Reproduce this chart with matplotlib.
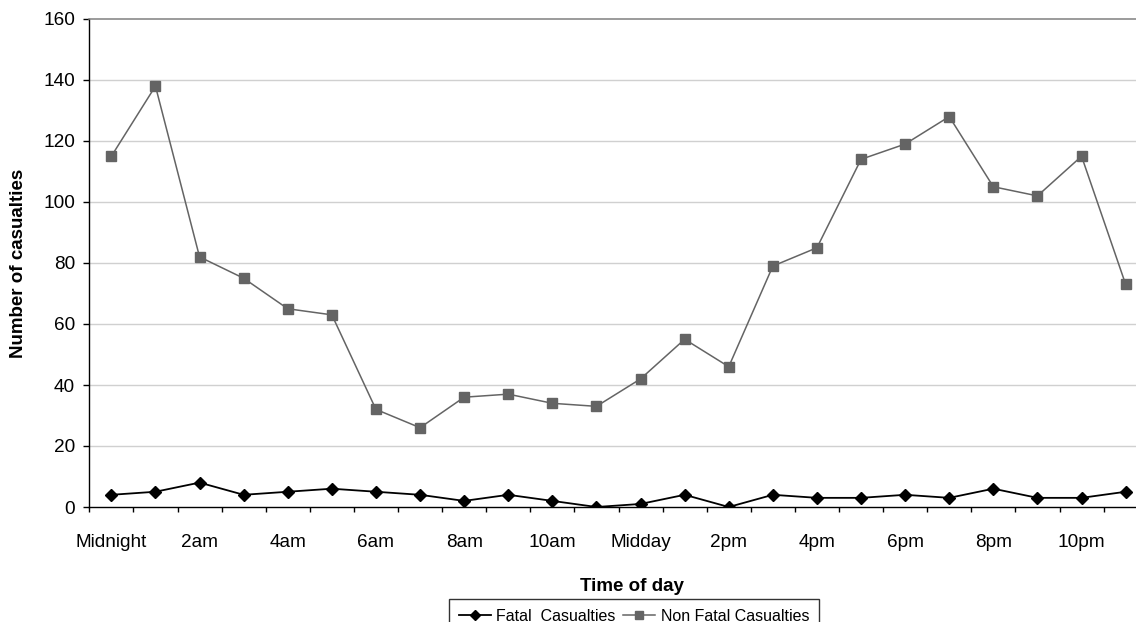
import matplotlib
matplotlib.use("Agg")
import matplotlib.pyplot as plt
import numpy as np

plt.rcParams['font.family'] = ['Liberation Sans', 'DejaVu Sans']

hours = list(range(24))
tick_labels = ["Midnight", "2am", "4am", "6am", "8am", "10am",
               "Midday", "2pm", "4pm", "6pm", "8pm", "10pm"]
fatal = [4, 5, 8, 4, 5, 6, 5, 4, 2, 4, 2, 0, 1, 4, 0, 4, 3, 3, 4, 3, 6, 3, 3, 5]
non_fatal = [115, 138, 82, 75, 65, 63, 32, 26, 36, 37, 34, 33,
             42, 55, 46, 79, 85, 114, 119, 128, 105, 102, 115, 73]
y_ticks = [0, 20, 40, 60, 80, 100, 120, 140, 160]

W, H = 1136, 622
fig = plt.figure(figsize=(W / 100, H / 100), dpi=100)
ax = fig.add_axes([89.3 / W, 115 / H, (1147.7 - 89.3) / W, 488 / H])

for y in y_ticks[1:-1]:
    ax.axhline(y, color='#d0d0d0', lw=1.0, zorder=0)

l1, = ax.plot(hours, fatal, color='black', lw=1.3, marker='D', ms=6.3,
              mfc='black', mec='black', label='Fatal  Casualties', zorder=3)
l2, = ax.plot(hours, non_fatal, color='#646464', lw=1.1, marker='s', ms=6.6,
              mfc='#646464', mec='#646464', label='Non Fatal Casualties', zorder=3)

ax.set_xlim(-0.5, 23.5)
ax.set_ylim(0, 160)
ax.set_yticks(y_ticks)
ax.set_yticklabels([str(v) for v in y_ticks], fontsize=13.7)

ax.set_xticks(np.arange(-0.5, 24.0, 1.0))
ax.set_xticklabels([])
ax.set_xticks(hours[::2], minor=True)
ax.set_xticklabels(tick_labels, minor=True, fontsize=13.7)
ax.tick_params(axis='x', which='major', direction='out', length=3.6, width=1.0, color='black')
ax.tick_params(axis='x', which='minor', length=0, pad=19.5)
ax.tick_params(axis='y', direction='out', length=4.3, width=1.0, color='black', pad=6)

for s in ['left', 'bottom']:
    ax.spines[s].set_color('black')
    ax.spines[s].set_linewidth(1.0)
for s in ['top', 'right']:
    ax.spines[s].set_color('#808080')
    ax.spines[s].set_linewidth(1.1)

fig.text(19 / W, 1 - 263 / H, 'Number of casualties', rotation=90,
         ha='center', va='center', fontsize=13.5, fontweight='bold')
fig.text(632 / W, 1 - 591 / H, 'Time of day', ha='center', va='baseline',
         fontsize=13.5, fontweight='bold')

leg = fig.legend(handles=[l1, l2], loc='upper left',
                 bbox_to_anchor=(449 / W, 1 - 599 / H), bbox_transform=fig.transFigure,
                 ncol=2, fontsize=11.5, frameon=True, fancybox=False,
                 borderaxespad=0, borderpad=0.6, handlelength=2.0,
                 handletextpad=0.35, columnspacing=0.5, markerscale=0.8)
leg.get_frame().set_edgecolor('black')
leg.get_frame().set_linewidth(1.0)

fig.savefig('out.png', dpi=100)
